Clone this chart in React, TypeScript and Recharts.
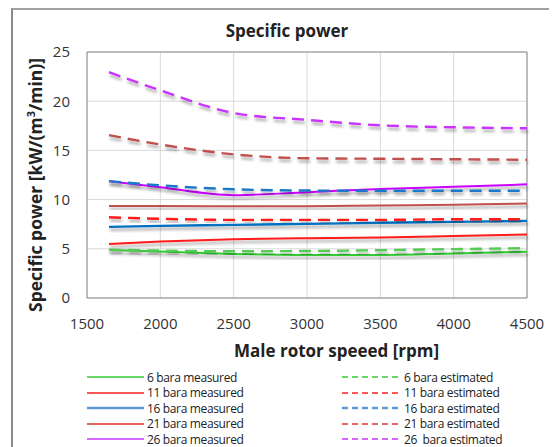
import React from 'react';
import { LineChart, Line, XAxis, YAxis, CartesianGrid, ReferenceLine } from 'recharts';

const rpm = [1650, 2000, 2500, 3000, 3500, 4000, 4500];
const m6 = [4.87, 4.72, 4.48, 4.38, 4.38, 4.53, 4.7];
const e6 = [4.92, 4.82, 4.75, 4.78, 4.86, 4.97, 5.07];
const m11 = [5.5, 5.74, 5.98, 6.08, 6.15, 6.3, 6.45];
const e11 = [8.2, 8.05, 7.94, 7.94, 7.94, 8.0, 8.0];
const m16 = [7.23, 7.33, 7.43, 7.53, 7.64, 7.74, 7.84];
const e16 = [11.88, 11.45, 11.05, 10.92, 10.9, 10.9, 10.9];
const m21 = [9.36, 9.34, 9.32, 9.33, 9.4, 9.47, 9.6];
const e21 = [16.55, 15.6, 14.6, 14.2, 14.15, 14.1, 14.05];
const m26 = [11.88, 11.25, 10.45, 10.75, 11.08, 11.3, 11.55];
const e26 = [22.95, 21.1, 18.8, 18.1, 17.55, 17.35, 17.25];

const xTicks = [1500, 2000, 2500, 3000, 3500, 4000, 4500];
const yTicks = [0, 5, 10, 15, 20, 25];

const measuredNames = ['6 bara measured', '11 bara measured', '16 bara measured', '21 bara measured', '26 bara measured'];
const estimatedNames = ['6 bara estimated', '11 bara estimated', '16 bara estimated', '21 bara estimated', '26  bara estimated'];

const measuredColors = ['#33cc33', '#ff1a1a', '#0070c0', '#c0504d', '#cc00ff'];
const estimatedColors = ['#55cc55', '#ff1a1a', '#1f78c8', '#c0504d', '#cc33ff'];
const legendMeasuredColors = ['#33cc33', '#ff2020', '#5b9bd5', '#e03030', '#cc33ff'];
const legendEstimatedColors = ['#33cc33', '#ff2020', '#5b9bd5', '#e03030', '#cc33ff'];

const measuredSeries = [m6, m11, m16, m21, m26];
const estimatedSeries = [e6, e11, e16, e21, e26];

const data = rpm.map((r, i) => {
  const row: Record<string, number> = { rpm: r };
  measuredSeries.forEach((s, k) => (row['m' + k] = s[i]));
  estimatedSeries.forEach((s, k) => (row['e' + k] = s[i]));
  return row;
});

const FONT = '"Open Sans", "DejaVu Sans", sans-serif';

export default function App() {
  return (
    <div style={{ position: 'relative', width: 549, height: 439, fontFamily: FONT, overflow: 'hidden', background: '#fff' }}>
      <div style={{ position: 'absolute', left: 3, top: 0, width: 600, height: 500, borderLeft: '2px solid #8c8c8c', borderTop: '2px solid #a0a0a0' }} />
      <div style={{ position: 'absolute', left: 0, width: 558, top: 11, textAlign: 'center', fontSize: 17, fontWeight: 700, color: '#222' }}>
        Specific power
      </div>
      <LineChart
        width={549}
        height={439}
        data={data}
        margin={{ top: 44, right: 30, left: 0, bottom: 119 }}
        style={{ position: 'absolute', left: 0, top: 0 }}
      >
        <defs>
          <filter id="shadow" x="-5%" y="-50%" width="110%" height="250%">
            <feDropShadow dx="1" dy="3" stdDeviation="1.8" floodColor="#000" floodOpacity="0.35" />
          </filter>
        </defs>
        <CartesianGrid stroke="#d9d9d9" strokeWidth={1} />
        <XAxis
          dataKey="rpm"
          type="number"
          domain={[1500, 4500]}
          ticks={xTicks}
          interval={0}
          height={30}
          tickLine={false}
          tickSize={0}
          tickMargin={20}
          axisLine={{ stroke: '#8c8c8c', strokeWidth: 1 }}
          tick={{ fill: '#333', fontSize: 15, fontFamily: FONT }}
        />
        <YAxis
          type="number"
          domain={[0, 25]}
          ticks={yTicks}
          interval={0}
          width={79}
          tickLine={false}
          tickSize={0}
          tickMargin={17}
          axisLine={{ stroke: '#8c8c8c', strokeWidth: 1 }}
          tick={{ fill: '#333', fontSize: 15, fontFamily: FONT }}
        />
        <ReferenceLine x={4500} stroke="#8c8c8c" strokeWidth={1} />
        <ReferenceLine y={25} stroke="#8c8c8c" strokeWidth={1} />
        {measuredSeries.map((_, k) => (
          <Line
            key={'m' + k}
            type="monotone"
            dataKey={'m' + k}
            stroke={measuredColors[k]}
            strokeWidth={k === 2 ? 2.4 : 2}
            dot={false}
            activeDot={false}
            isAnimationActive={false}
            style={{ filter: 'url(#shadow)' }}
          />
        ))}
        {estimatedSeries.map((_, k) => (
          <Line
            key={'e' + k}
            type="monotone"
            dataKey={'e' + k}
            stroke={estimatedColors[k]}
            strokeWidth={2.4}
            strokeDasharray="12 7"
            dot={false}
            activeDot={false}
            isAnimationActive={false}
            style={{ filter: 'url(#shadow)' }}
          />
        ))}
      </LineChart>
      <div
        style={{
          position: 'absolute',
          left: 27,
          top: 177,
          transform: 'translate(-50%, -50%) rotate(-90deg)',
          whiteSpace: 'nowrap',
          fontSize: 17.5,
          fontWeight: 700,
          color: '#222',
        }}
      >
        Specific power [kW/(m<sup style={{ fontSize: 11, verticalAlign: 'super', lineHeight: 0 }}>3</sup>/min)]
      </div>
      <div style={{ position: 'absolute', left: 226, top: 331, whiteSpace: 'nowrap', fontSize: 17, fontWeight: 700, color: '#222' }}>
        Male rotor speeed [rpm]
      </div>
      {measuredNames.map((name, k) => (
        <div key={'lm' + k} style={{ position: 'absolute', left: 79, top: 361 + k * 15.5, height: 16, display: 'flex', alignItems: 'center', whiteSpace: 'nowrap' }}>
          <svg width={57} height={6} style={{ marginRight: 3 }}>
            <line x1={0} y1={3} x2={57} y2={3} stroke={legendMeasuredColors[k]} strokeWidth={k === 2 ? 2.5 : 1.3} />
          </svg>
          <span style={{ fontSize: 12, color: '#222', letterSpacing: -0.35 }}>{name}</span>
        </div>
      ))}
      {estimatedNames.map((name, k) => (
        <div key={'le' + k} style={{ position: 'absolute', left: 334, top: 361 + k * 15.5, height: 16, display: 'flex', alignItems: 'center', whiteSpace: 'nowrap' }}>
          <svg width={57} height={6} style={{ marginRight: 5 }}>
            <line x1={0} y1={3} x2={57} y2={3} stroke={legendEstimatedColors[k]} strokeWidth={k === 2 ? 2.5 : 1.3} strokeDasharray="6 4" />
          </svg>
          <span style={{ fontSize: 12, color: '#222', letterSpacing: -0.35, whiteSpace: 'pre' }}>{name}</span>
        </div>
      ))}
    </div>
  );
}
